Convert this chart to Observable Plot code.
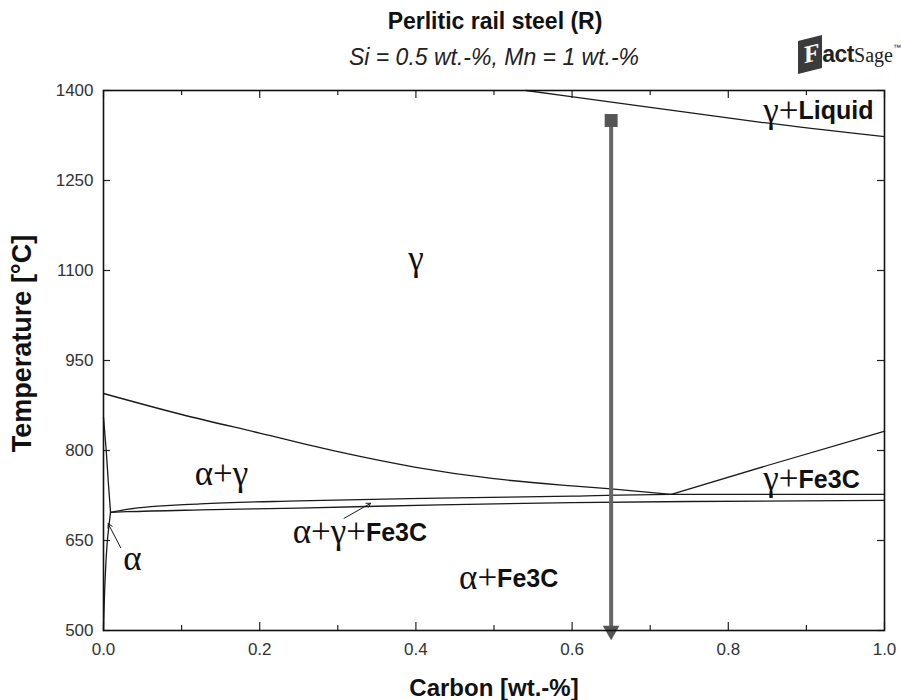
<!DOCTYPE html>
<html>
<head>
<meta charset="utf-8">
<script src="https://cdn.jsdelivr.net/npm/d3@7"></script>
<script src="https://cdn.jsdelivr.net/npm/@observablehq/plot@0.6"></script>
<style>
  html, body { margin: 0; padding: 0; background: #fff; overflow: hidden; }
  #wrap { position: relative; width: 901px; height: 700px; font-family: "Liberation Sans", Arial, sans-serif; }
  #title { position: absolute; left: 0; top: 7px; width: 990px; text-align: center; font-size: 23px; font-weight: bold; color: #111; line-height: 28px; }
  #subtitle { position: absolute; left: 0; top: 45px; width: 988px; text-align: center; font-size: 23px; font-style: italic; color: #222; line-height: 24px; }
  #logo { position: absolute; left: 798px; top: 38px; height: 38px; white-space: nowrap; color: #222; }
  #logo .f { display: inline-block; background: #3a3a3a; color: #fff; font-weight: bold; font-size: 25px; padding: 2px 3px 3px 6px; transform: skewY(-14deg); font-family: "Liberation Serif", serif; }
  #logo .act { font-weight: 900; font-size: 23px; font-family: "Liberation Sans", sans-serif; letter-spacing: -0.5px; }
  #logo .sage { font-size: 20px; font-family: "Liberation Serif", serif; }
  #logo sup { font-size: 8px; vertical-align: 12px; }
  #chart { position: absolute; left: 0; top: 80px; }
</style>
</head>
<body>
<div id="wrap">
  <div id="title">Perlitic rail steel (R)</div>
  <div id="subtitle">Si = 0.5 wt.-%, Mn = 1 wt.-%</div>
  <div id="logo"><span class="f">F</span><span class="act">act</span><span class="sage">Sage</span><sup>™</sup></div>
  <div id="chart"></div>
</div>
<script>
// ---- Data (Carbon wt.-%, Temperature °C) ----
// A3 line: gamma / alpha+gamma boundary
const a3C = [0, 0.1, 0.2, 0.3, 0.4, 0.5, 0.6, 0.65, 0.727];
const a3T = [895, 860, 829, 798, 772, 753, 741, 736, 727];
// Acm line: gamma / gamma+Fe3C boundary
const acmC = [0.727, 0.85, 1.0];
const acmT = [727, 775, 832];
// gamma / gamma+Liquid boundary
const liqC = [0.541, 0.7, 0.842, 1.0];
const liqT = [1400, 1372, 1347, 1323];
// Upper line of the three-phase band (alpha+gamma+Fe3C)
const upC = [0.009, 0.03, 0.124, 0.25, 0.43, 0.6, 0.727, 1.0];
const upT = [697, 702, 711, 716, 720.5, 724, 727, 727];
// Lower line of the three-phase band
const loC = [0.009, 0.03, 0.124, 0.25, 0.43, 0.6, 0.75, 1.0];
const loT = [697, 698, 701, 704, 709.5, 713, 715, 717];
// alpha single-phase region boundaries (near C = 0)
const alphaUpC = [0, 0.0035, 0.006, 0.009];
const alphaUpT = [855, 800, 750, 697];
const alphaLoC = [0.009, 0.005, 0.002, 0];
const alphaLoT = [697, 650, 583, 500];
// Cooling path of the alloy (0.65 wt.-% C)
const pathC = 0.65;
const pathT = [1350, 500];
// Annotation arrows [from C, from T, to C, to T]
const annoArrows = [[0.022, 638, 0.006, 678], [0.308, 687, 0.342, 712]];
// Phase-field labels
const greekLabels = ["γ", "α+γ", "α"];
const greekC = [0.4, 0.151, 0.037];
const greekT = [1120, 762, 620];
const mixedGreek = ["γ+", "γ+", "α+γ+", "α+"];
const mixedLatin = ["Liquid", "Fe3C", "Fe3C", "Fe3C"];
const mixedC = [0.89, 0.89, 0.336, 0.504];
const mixedT = [1367, 753, 665, 588];
// Axis ticks
const xLabelTicks = [0, 0.2, 0.4, 0.6, 0.8, 1.0];
const xMinorTicks = [0.1, 0.3, 0.5, 0.7, 0.9];
const yTicks = [500, 650, 800, 950, 1100, 1250, 1400];

// ---- build tables ----
const zip = (xs, ys) => xs.map((x, i) => ({C: x, T: ys[i]}));
const curves = [zip(a3C, a3T), zip(acmC, acmT), zip(liqC, liqT), zip(upC, upT), zip(loC, loT)];
const alphaCurves = [zip(alphaUpC, alphaUpT), zip(alphaLoC, alphaLoT)];
const arrows = annoArrows.map(([c1, t1, c2, t2]) => ({c1, t1, c2, t2}));
const gLab = greekLabels.map((s, i) => ({s, C: greekC[i], T: greekT[i]}));
const mLab = mixedGreek.map((g, i) => ({g, l: mixedLatin[i], C: mixedC[i], T: mixedT[i]}));
const path = [{C: pathC, T1: pathT[0], T2: pathT[1]}];

const W = 901, H = 620, mT = 10, mB = 70, mL = 103, mR = 17;
const frameW = W - mL - mR, frameH = H - mT - mB;
const lineStyle = {stroke: "#1a1a1a", strokeWidth: 1.3};
const tickStyle = {stroke: "#222", strokeWidth: 1.2};
const serif = "Liberation Serif, Times New Roman, serif";
const sans = "Liberation Sans, Arial, sans-serif";

const chart = Plot.plot({
  width: W,
  height: H,
  marginTop: mT,
  marginBottom: mB,
  marginLeft: mL,
  marginRight: mR,
  style: {fontFamily: sans, background: "#fff"},
  x: {domain: [0, 1], axis: null},
  y: {domain: [500, 1400], axis: null},
  marks: [
    // phase boundaries
    ...curves.map(d => Plot.line(d, {x: "C", y: "T", curve: "monotone-x", ...lineStyle})),
    ...alphaCurves.map(d => Plot.line(d, {x: "C", y: "T", curve: "monotone-y", ...lineStyle})),
    // cooling path
    Plot.ruleX(path, {x: "C", y1: "T1", y2: "T2", stroke: "#666", strokeWidth: 4}),
    Plot.dot(path, {x: "C", y: "T1", symbol: "square", r: 7.3, fill: "#555", stroke: "none"}),
    Plot.dot(path, {x: "C", y: "T2", symbol: "triangle", rotate: 180, r: 6.2, fill: "#555", stroke: "none"}),
    // annotation arrows
    Plot.arrow(arrows, {x1: "c1", y1: "t1", x2: "c2", y2: "t2", stroke: "#1a1a1a", strokeWidth: 1, headLength: 7}),
    // labels
    Plot.text(gLab, {x: "C", y: "T", text: "s", fontFamily: serif, fontSize: 35, fill: "#111"}),
    Plot.text(mLab, {x: "C", y: "T", text: "g", textAnchor: "end", fontFamily: serif, fontSize: 35, fill: "#111"}),
    Plot.text(mLab, {x: "C", y: "T", text: "l", textAnchor: "start", fontFamily: sans, fontWeight: "bold", fontSize: 25, fill: "#111", dy: 1}),
    // tick labels
    Plot.axisX(xLabelTicks, {tickSize: 0, tickPadding: 12, tickFormat: d3.format(".1f"), fontSize: 17, fill: "#333", label: null}),
    Plot.axisY(yTicks, {tickSize: 0, tickPadding: 10, tickFormat: d => String(d), fontSize: 17, fill: "#333", label: null}),
    // inward ticks
    Plot.tickX(xLabelTicks, {x: d => d, insetTop: frameH - 8, ...tickStyle}),
    Plot.tickX(xMinorTicks, {x: d => d, insetTop: frameH - 5, ...tickStyle}),
    Plot.tickX(xLabelTicks, {x: d => d, insetBottom: frameH - 8, ...tickStyle}),
    Plot.tickX(xMinorTicks, {x: d => d, insetBottom: frameH - 5, ...tickStyle}),
    Plot.tickY(yTicks, {y: d => d, insetRight: frameW - 7, ...tickStyle}),
    Plot.tickY(yTicks, {y: d => d, insetLeft: frameW - 7, ...tickStyle}),
    Plot.frame({stroke: "#111", strokeWidth: 1.6}),
    // axis titles
    Plot.text(["Carbon [wt.-%]"], {frameAnchor: "bottom", textAnchor: "middle", lineAnchor: "middle", dy: 58, fontSize: 24, fontWeight: "bold", fill: "#111"}),
    Plot.text(["Temperature [°C]"], {frameAnchor: "left", textAnchor: "middle", lineAnchor: "middle", dx: -81, dy: -17, rotate: -90, fontSize: 27, fontWeight: "bold", fill: "#111"})
  ]
});
document.getElementById("chart").appendChild(chart);
</script>
</body>
</html>
